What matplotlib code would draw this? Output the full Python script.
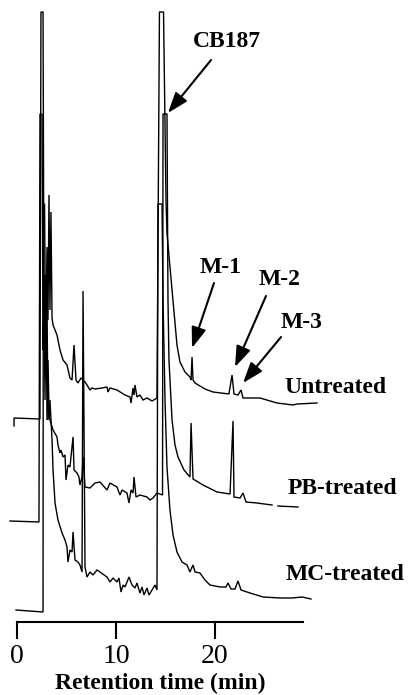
import matplotlib

matplotlib.use("Agg")
import matplotlib.pyplot as plt
import numpy as np

plt.rcParams["font.family"] = ["Liberation Serif", "DejaVu Serif"]

# retention time (min) and detector signal above each trace's own baseline
UNTREATED_T = [-0.30, -0.30, 2.32, 2.42, 2.63, 2.73, 2.83, 2.93, 3.03, 3.13,
               3.23, 3.33, 3.43, 3.54, 3.64, 4.04, 4.34, 4.65, 5.05, 5.35,
               5.56, 5.76, 5.96, 6.16, 6.46, 6.87, 7.07, 7.37, 7.58, 7.88,
               8.59, 9.09, 9.19, 9.39, 10.10, 10.91, 11.41, 11.52, 11.72, 11.82,
               11.92, 12.12, 12.42, 12.73, 13.13, 13.64, 14.14, 14.39, 14.80, 15.05,
               15.15, 15.66, 16.16, 16.46, 16.97, 17.47, 17.58, 17.68, 17.78, 17.98,
               18.99, 19.80, 21.41, 21.72, 21.92, 22.32, 22.63, 22.83, 24.55, 26.26,
               27.88, 28.28, 30.30]
UNTREATED_S = [-7, 1, 0, 407, 407, 89, 144, 84, 172, 99,
               224, 109, 207, 101, 94, 84, 69, 59, 54, 41,
               39, 74, 39, 36, 41, 37, 34, 29, 31, 30,
               31, 32, 27, 31, 29, 24, 22, 16, 31, 24,
               34, 22, 24, 19, 21, 18, 21, 407, 407, 219,
               186, 129, 74, 57, 47, 42, 39, 62, 39, 36,
               30, 27, 25, 44, 25, 24, 29, 21, 21, 16,
               14, 15, 16]

PB_T = [-0.71, 2.22, 2.32, 2.53, 2.63, 2.73, 2.83, 2.93, 3.03, 3.13,
        3.23, 3.33, 3.64, 4.04, 4.14, 4.34, 4.44, 4.65, 4.85, 4.95,
        5.15, 5.35, 5.66, 5.76, 6.06, 6.26, 6.36, 6.57, 6.67, 6.87,
        7.37, 7.88, 8.38, 9.09, 9.39, 10.10, 10.40, 10.61, 11.11, 11.31,
        11.52, 11.72, 11.82, 12.02, 12.42, 13.13, 13.43, 13.74, 14.14, 14.70,
        14.75, 15.15, 15.25, 15.35, 15.66, 15.96, 16.26, 16.87, 17.47, 17.58,
        17.78, 18.79, 20.20, 21.52, 21.82, 21.92, 22.53, 22.83, 23.13, 24.24,
        25.76, np.nan, 26.36, 28.38]
PB_S = [0, -1, 407, 407, 171, 221, 121, 241, 101, 161,
        111, 101, 91, 84, 76, 68, 71, 64, 66, 41,
        56, 54, 84, 51, 48, 44, 36, 44, 64, 34,
        33, 38, 39, 31, 38, 34, 26, 31, 28, 18,
        31, 28, 44, 24, 26, 24, 21, 23, 28, 26,
        407, 407, 221, 161, 101, 76, 64, 51, 44, 98,
        42, 36, 29, 27, 100, 24, 23, 28, 19, 18,
        16, np.nan, 15, 14]

MC_T = [-0.10, 2.63, 2.66, 2.78, 2.93, 3.03, 3.13, 3.33, 3.54, 3.64,
        3.84, 4.14, 4.55, 4.85, 5.05, 5.15, 5.35, 5.56, 5.66, 5.86,
        6.16, 6.36, 6.57, 6.67, 6.87, 7.07, 7.37, 7.68, 8.08, 8.38,
        9.09, 9.39, 9.70, 10.10, 10.30, 10.51, 10.71, 10.91, 11.31, 11.62,
        11.92, 12.12, 12.42, 12.63, 12.83, 13.13, 13.33, 13.64, 13.94, 14.14,
        14.24, 14.65, 14.75, 14.95, 15.15, 15.45, 15.76, 16.16, 16.67, 17.17,
        17.47, 17.78, 17.98, 18.48, 18.99, 19.49, 20.51, 21.11, 21.31, 21.62,
        22.02, 22.32, 22.63, 23.54, 24.85, 26.57, 27.78, 28.79, 29.70]
MC_S = [1, -1, 407, 407, 231, 311, 191, 211, 171, 141,
        108, 91, 78, 71, 64, 49, 61, 59, 79, 51,
        49, 46, 39, 320, 44, 34, 39, 36, 41, 39,
        34, 29, 33, 29, 33, 19, 26, 24, 34, 26,
        23, 28, 18, 24, 16, 23, 16, 21, 26, 21,
        407, 407, 311, 211, 144, 101, 76, 59, 49, 46,
        39, 46, 39, 38, 31, 26, 24, 24, 28, 22,
        22, 30, 21, 18, 14, 13, 13, 14, 12]

TRACE_NAMES = ["Untreated", "PB-treated", "MC-treated"]
TRACE_OFFSETS = [203, 101, 11]  # vertical stacking of the chromatograms

XTICKS = [0, 10, 20]

fig = plt.figure(figsize=(4.08, 6.95), dpi=100)
ax = fig.add_axes([0, 0, 1, 1])
ax.set_xlim(-17 / 9.9, (408 - 17) / 9.9)
ax.set_ylim(-73, 622)

traces = [(UNTREATED_T, UNTREATED_S), (PB_T, PB_S), (MC_T, MC_S)]
for (t, s), off in zip(traces, TRACE_OFFSETS):
    ax.plot(t, np.array(s, dtype=float) + off, color="black", lw=1.0,
            solid_joinstyle="miter")

# trace labels
label_x = [26.97, 27.37, 27.17]
label_y = [229, 128, 42]
for name, lx, ly in zip(TRACE_NAMES, label_x, label_y):
    ax.text(lx, ly, name, fontsize=17, fontweight="bold", ha="left", va="baseline")

# peak annotations
arrow_kw = dict(arrowstyle="-|>,head_length=0.9,head_width=0.32", color="black",
                lw=1.5, shrinkA=0, shrinkB=0, mutation_scale=14)
peaks = [
    ("CB187", (21.16, 575), (19.60, 562), (15.25, 509)),
    ("M-1", (20.56, 349), (19.90, 339), (17.68, 274)),
    ("M-2", (26.57, 337), (25.15, 326), (22.02, 255)),
    ("M-3", (28.79, 294), (26.67, 285), (22.83, 239)),
]
for lab, txy, tail, tip in peaks:
    ax.text(txy[0], txy[1], lab, fontsize=17, fontweight="bold",
            ha="center", va="baseline")
    ax.annotate("", xy=tip, xytext=tail, arrowprops=arrow_kw)

# x axis
for side in ["top", "left", "right"]:
    ax.spines[side].set_visible(False)
ax.spines["bottom"].set_position(("data", 0))
ax.spines["bottom"].set_bounds(0, 28.9)
ax.spines["bottom"].set_linewidth(1.5)
ax.set_yticks([])
ax.set_xticks(XTICKS)
ax.set_xticklabels([str(v) for v in XTICKS], fontsize=20)
ax.tick_params(axis="x", direction="out", length=12.5, width=1.5, pad=3)
ax.text(14.44, -67, "Retention time (min)", fontsize=17, fontweight="bold",
        ha="center", va="baseline")

fig.savefig("out.png", dpi=100)
